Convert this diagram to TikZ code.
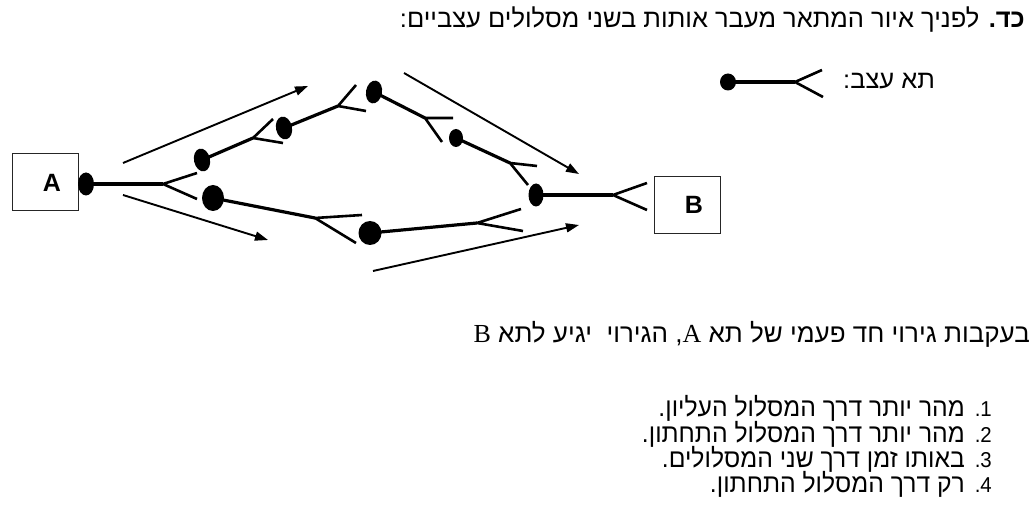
\documentclass[tikz,border=0pt]{standalone}
\usepackage{fontspec}
\setmainfont{Liberation Sans}
\newfontfamily\heb[Script=Hebrew]{Liberation Sans}
\newfontfamily\hebn[Script=Hebrew,FakeStretch=0.95]{Liberation Sans}
\newfontfamily\latserif{Liberation Serif}
\TeXXeTstate=1
\usetikzlibrary{arrows.meta,shapes.geometric}

\begin{document}
\begin{tikzpicture}[x=1pt,y=-1pt,
  soma/.style={ellipse, fill=black, draw=none, inner sep=0pt},
  axon/.style={line width=3.2pt},
  thickaxon/.style={line width=4.6pt},
  dendrite/.style={line width=2.6pt},
  flow/.style={line width=1.9pt, -{Triangle[length=13pt,width=9pt]}},
  cellbox/.style={draw=black!85, line width=1pt, minimum width=66pt, minimum height=57pt,
    inner sep=0pt, font=\fontsize{25}{25}\selectfont\bfseries},
  txt/.style={inner sep=0pt, anchor=base east}]

\useasboundingbox (0,0) rectangle (1035,510);

% heading
\node[txt, font=\heb\fontsize{25.5}{25.5}\selectfont] (title) at (1025,28)
  {\beginR\textbf{כד.} לפניך איור המתאר מעבר אותות בשני מסלולים עצביים:\endR};

% legend: one nerve cell
\node[soma, minimum width=16pt, minimum height=17pt] (legdot) at (728,82) {};
\coordinate (legfork) at (795,82);
\coordinate (legup) at (822,70);
\coordinate (legdown) at (823,97);
\draw[axon] (legdot.center) -- (legfork);
\draw[dendrite] (legup) -- (legfork) -- (legdown);
\node[inner sep=0pt, anchor=base west, font=\heb\fontsize{25.5}{25.5}\selectfont] (legtext) at (843,89)
  {\beginR תא עצב:\endR};

% cells A and B
\node[cellbox] (boxA) at (45,182.5) {\hspace*{14pt}A};
\node[cellbox] (boxB) at (687,205) {\hspace*{14pt}B};

% somata
\node[soma, minimum width=16pt, minimum height=23pt] (dA) at (86,184) {};
\node[soma, minimum width=16pt, minimum height=23pt, rotate=12] (d1) at (202,160) {};
\node[soma, minimum width=16pt, minimum height=23pt, rotate=12] (d2) at (284,128) {};
\node[soma, minimum width=16pt, minimum height=23pt, rotate=-10] (d3) at (374,92) {};
\node[soma, minimum width=14pt, minimum height=18pt] (d4) at (456,138) {};
\node[soma, minimum width=15pt, minimum height=23pt] (d5) at (536,195) {};
\node[soma, minimum width=22pt, minimum height=26pt] (dL1) at (213,198) {};
\node[soma, minimum width=23pt, minimum height=24pt] (dL2) at (370,233) {};

% axon ends (forks) and dendrite tips
\coordinate (fA) at (163,184);  \coordinate (fAu) at (197,173); \coordinate (fAd) at (197,199);
\coordinate (f1) at (253,138);  \coordinate (f1u) at (273,119); \coordinate (f1d) at (283,143);
\coordinate (f2) at (338,106);  \coordinate (f2u) at (356,85);  \coordinate (f2d) at (366,111);
\coordinate (f3) at (425,118);  \coordinate (f3u) at (453,118); \coordinate (f3d) at (442,142);
\coordinate (f4) at (510,163);  \coordinate (f4u) at (537,166); \coordinate (f4d) at (528,185);
\coordinate (f5) at (613,195);  \coordinate (f5u) at (647,183); \coordinate (f5d) at (647,210);
\coordinate (fL1) at (315,218); \coordinate (fL1u) at (362,215); \coordinate (fL1d) at (356,243);
\coordinate (fL2) at (477,223); \coordinate (fL2u) at (521,209); \coordinate (fL2d) at (523,231);

% axons
\draw[thickaxon] (dA.center) -- (fA);
\draw[thickaxon] (d5.center) -- (f5);
\draw[axon] (d1.center) -- (f1);
\draw[axon] (d2.center) -- (f2);
\draw[axon] (d3.center) -- (f3);
\draw[axon] (d4.center) -- (f4);
\draw[axon] (dL1.center) -- (fL1);
\draw[axon] (dL2.center) -- (fL2);

% dendrites
\foreach \f in {fA,f1,f2,f3,f4,f5,fL1,fL2}
  \draw[dendrite] (\f u) -- (\f) -- (\f d);

% direction of the signal
\coordinate (a1s) at (123,163); \coordinate (a1e) at (308,86);
\coordinate (a2s) at (123,195); \coordinate (a2e) at (268,240);
\coordinate (a3s) at (404,73);  \coordinate (a3e) at (579,174);
\coordinate (a4s) at (373,271); \coordinate (a4e) at (579,225);
\draw[flow] (a1s) -- (a1e);
\draw[flow] (a2s) -- (a2e);
\draw[flow] (a3s) -- (a3e);
\draw[flow] (a4s) -- (a4e);

% question
\node[txt, font=\heb\fontsize{26}{26}\selectfont] (question) at (1030,342)
  {\beginR בעקבות גירוי חד פעמי של תא \beginL{\latserif A}\endL, הגירוי\ \ יגיע לתא \beginL{\latserif B}\endL\endR};

% answers
\foreach \n/\yb/\t in {
  1/416/{מהר יותר דרך המסלול העליון.},
  2/442/{מהר יותר דרך המסלול התחתון.},
  3/467/{באותו זמן דרך שני המסלולים.},
  4/492/{רק דרך המסלול התחתון.}} {
  \node[txt, font=\hebn\fontsize{21.5}{21.5}\selectfont] (num\n) at (992,\yb) {\n.};
  \node[txt, font=\hebn\fontsize{26}{26}\selectfont] (ans\n) at (965,\yb) {\beginR\t\endR};
}
\end{tikzpicture}
\end{document}
